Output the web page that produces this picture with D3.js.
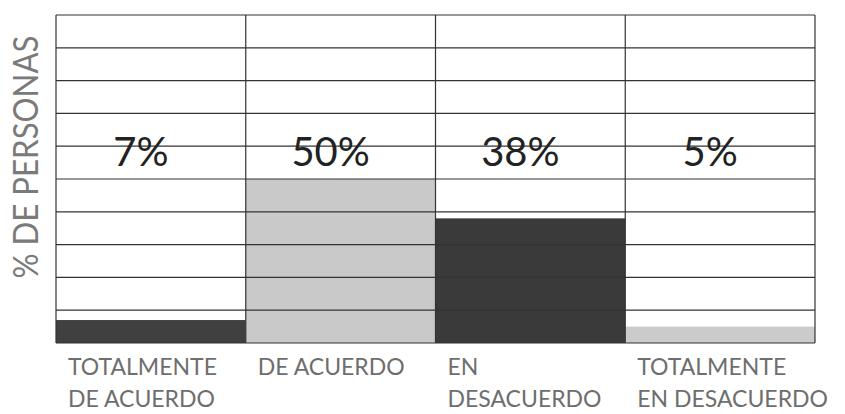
<!DOCTYPE html>
<html>
<head>
<meta charset="utf-8">
<script src="https://cdn.jsdelivr.net/npm/d3@7"></script>
<style>
  body { margin: 0; background: #fff; }
  text { font-family: Lato, "Open Sans", sans-serif; }
</style>
</head>
<body>
<div id="chart"></div>
<script>
// data
var categories = ["TOTALMENTE DE ACUERDO", "DE ACUERDO", "EN DESACUERDO", "TOTALMENTE EN DESACUERDO"]
var labelLines = [["TOTALMENTE", "DE ACUERDO"], ["DE ACUERDO"], ["EN", "DESACUERDO"], ["TOTALMENTE", "EN DESACUERDO"]]
var values = [7, 50, 38, 5]
var fills = ["#404040", "#c9c9c9", "#3a3a3a", "#cbcbcb"]

var width = 845, height = 414
var margin = { top: 15, left: 56, right: 30, bottom: 71 }

var svg = d3.select("#chart")
  .append("svg")
  .attr("width", width)
  .attr("height", height)

var x = d3.scaleBand()
  .domain(categories)
  .range([margin.left, width - margin.right])
  .padding(0)

var y = d3.scaleLinear()
  .domain([0, 100])
  .range([height - margin.bottom, margin.top])

// bars
svg.selectAll(".bar")
  .data(values)
  .enter().append("rect")
  .attr("class", "bar")
  .attr("x", function(d, i) { return x(categories[i]) })
  .attr("width", x.bandwidth())
  .attr("y", function(d) { return y(d) })
  .attr("height", function(d) { return y(0) - y(d) })
  .style("fill", function(d, i) { return fills[i] })

// horizontal grid lines, drawn over the bars
svg.selectAll(".grid")
  .data(y.ticks(10))
  .enter().append("line")
  .attr("class", "grid")
  .attr("x1", margin.left)
  .attr("x2", width - margin.right)
  .attr("y1", function(d) { return y(d) })
  .attr("y2", function(d) { return y(d) })
  .style("stroke", "#333")
  .style("stroke-width", 1.2)

// column dividers
svg.selectAll(".divider")
  .data(categories.concat(["end"]))
  .enter().append("line")
  .attr("class", "divider")
  .attr("x1", function(d) { return d === "end" ? width - margin.right : x(d) })
  .attr("x2", function(d) { return d === "end" ? width - margin.right : x(d) })
  .attr("y1", y(100))
  .attr("y2", y(0))
  .style("stroke", "#333")
  .style("stroke-width", 1.2)

// percentage labels
svg.selectAll(".pct")
  .data(values)
  .enter().append("text")
  .attr("class", "pct")
  .attr("x", function(d, i) { return x(categories[i]) + x.bandwidth() / 2 - 10 })
  .attr("y", 166)
  .attr("text-anchor", "middle")
  .style("font-size", "40px")
  .style("fill", "#222")
  .text(function(d) { return d + "%" })

// category labels
svg.selectAll(".cat")
  .data(labelLines)
  .enter().append("text")
  .attr("class", "cat")
  .attr("x", function(d, i) { return x(categories[i]) + 12 })
  .attr("y", 375)
  .style("font-size", "23px")
  .style("fill", "#6e6e6e")
  .selectAll("tspan")
  .data(function(d) { return d })
  .enter().append("tspan")
  .attr("x", function() { return d3.select(this.parentNode).attr("x") })
  .attr("dy", function(d, i) { return i === 0 ? 0 : 32 })
  .text(function(d) { return d })

// y axis title
svg.append("text")
  .attr("transform", "translate(38,157) rotate(-90)")
  .attr("text-anchor", "middle")
  .attr("textLength", 243)
  .attr("lengthAdjust", "spacingAndGlyphs")
  .style("font-size", "35px")
  .style("fill", "#7a7a7a")
  .text("% DE PERSONAS")
</script>
</body>
</html>
